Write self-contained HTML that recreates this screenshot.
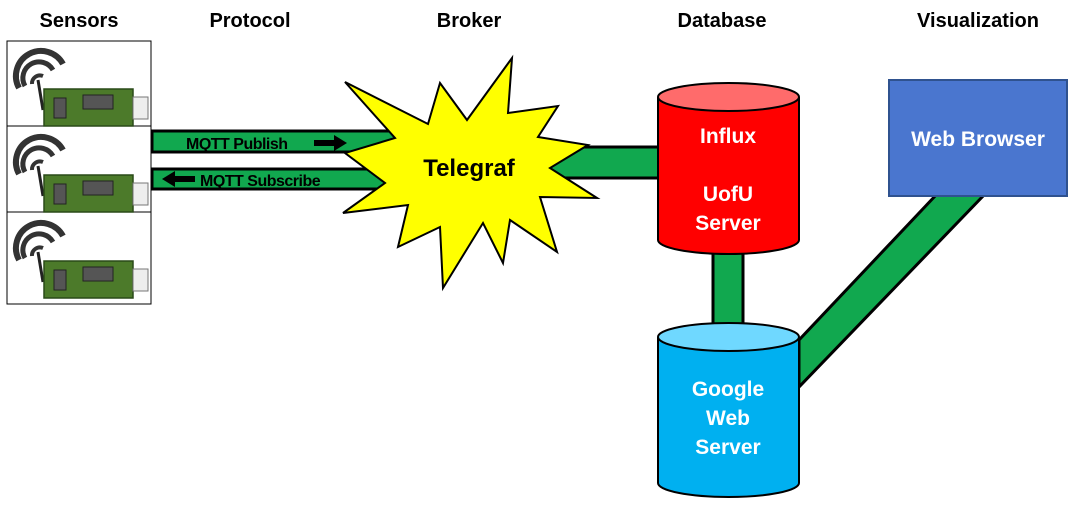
<!DOCTYPE html>
<html><head><style>
body{margin:0;background:#fff;}
svg{display:block;font-family:"Liberation Sans",Arial,sans-serif;font-weight:bold;}
</style></head><body>
<svg width="1073" height="505" viewBox="0 0 1073 505">
<defs>
<g id="sensor">
  <path d="M14,48 A24,24 0 0 1 58,24" fill="none" stroke="#333" stroke-width="6"/>
  <path d="M20,46 A16,16 0 0 1 48,30" fill="none" stroke="#333" stroke-width="5"/>
  <path d="M27,44 A8,8 0 0 1 38,36" fill="none" stroke="#333" stroke-width="4"/>
  <line x1="33" y1="40" x2="38" y2="70" stroke="#222" stroke-width="3"/>
  <rect x="39" y="49" width="89" height="37" fill="#4c7a2a" stroke="#2a4a18" stroke-width="1.5"/>
  <rect x="49" y="58" width="12" height="20" fill="#555" stroke="#222"/>
  <rect x="78" y="55" width="30" height="14" fill="#555" stroke="#222"/>
  <rect x="128" y="57" width="15" height="22" fill="#eee" stroke="#777"/>
</g>
</defs>
<g font-size="20" fill="#000" text-anchor="middle">
<text x="79" y="27">Sensors</text>
<text x="250" y="27">Protocol</text>
<text x="469" y="27">Broker</text>
<text x="722" y="27">Database</text>
<text x="978" y="27">Visualization</text>
</g>
<rect x="7" y="41" width="144" height="263" fill="#fff" stroke="#000" stroke-width="1"/>
<line x1="7" y1="126" x2="151" y2="126" stroke="#000"/>
<line x1="7" y1="212" x2="151" y2="212" stroke="#000"/>
<use href="#sensor" x="5" y="40"/>
<use href="#sensor" x="5" y="126"/>
<use href="#sensor" x="5" y="212"/>
<rect x="152" y="131" width="250" height="21" fill="#11a84f" stroke="#000" stroke-width="3"/>
<rect x="152" y="169" width="250" height="20" fill="#11a84f" stroke="#000" stroke-width="3"/>
<text x="186" y="149" font-size="16" letter-spacing="-0.5">MQTT Publish</text>
<path d="M314,140 h20 v-5 l13,8 l-13,8 v-5 h-20z" fill="#000"/>
<text x="200" y="186" font-size="16" letter-spacing="-0.5">MQTT Subscribe</text>
<path d="M195,176 h-20 v-5 l-13,8 l13,8 v-5 h20z" fill="#000"/>
<rect x="520" y="147" width="142" height="31" fill="#11a84f" stroke="#000" stroke-width="3"/>
<polygon points="345,82 428,124 440,83 467,120 512,58 508,113 558,106 538,137 588,145 550,168 597,198 540,197 557,252 510,220 503,263 483,223 443,288 440,227 398,247 408,205 343,213 385,183 345,153 395,138" fill="#ffff00" stroke="#000" stroke-width="2"/>
<text x="469" y="176" font-size="24" text-anchor="middle">Telegraf</text>
<rect x="713" y="235" width="30" height="90" fill="#11a84f" stroke="#000" stroke-width="3"/>
<polygon points="937,194 985,194 799,387 799,340" fill="#11a84f" stroke="#000" stroke-width="3"/>
<path d="M658,97 v143 a70.5,14 0 0 0 141,0 v-143" fill="#ff0000" stroke="#000" stroke-width="2"/>
<ellipse cx="728.5" cy="97" rx="70.5" ry="14" fill="#ff6b6b" stroke="#000" stroke-width="2"/>
<g fill="#fff" font-size="21" text-anchor="middle">
<text x="728" y="143">Influx</text>
<text x="728" y="201">UofU</text>
<text x="728" y="230">Server</text>
</g>
<path d="M658,337 v146 a70.5,14 0 0 0 141,0 v-146" fill="#00b0f0" stroke="#000" stroke-width="2"/>
<ellipse cx="728.5" cy="337" rx="70.5" ry="14" fill="#6fd8ff" stroke="#000" stroke-width="2"/>
<g fill="#fff" font-size="21" text-anchor="middle">
<text x="728" y="396">Google</text>
<text x="728" y="425">Web</text>
<text x="728" y="454">Server</text>
</g>
<rect x="889" y="80" width="178" height="116" fill="#4a76cf" stroke="#2f528f" stroke-width="2"/>
<text x="978" y="146" font-size="21" fill="#fff" text-anchor="middle">Web Browser</text>
</svg>
</body></html>
